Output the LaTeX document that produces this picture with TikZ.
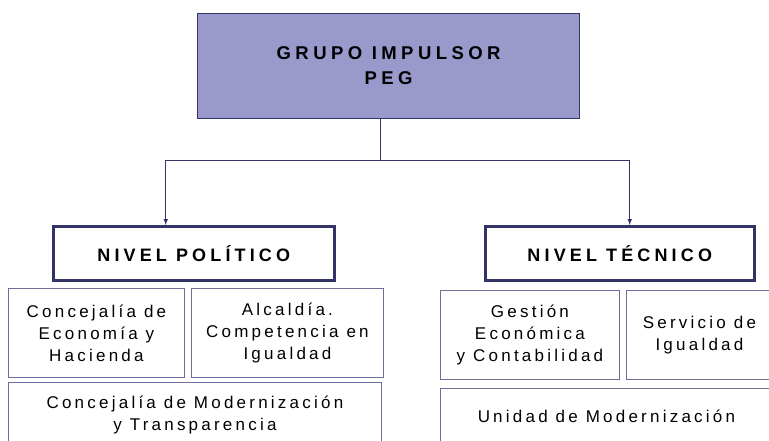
\documentclass[tikz,border=0pt]{standalone}
\usepackage{fontspec}
\setmainfont{Liberation Sans}
\usetikzlibrary{arrows,positioning}

\definecolor{grupofill}{RGB}{153,153,204}
\definecolor{navyline}{RGB}{51,51,102}
\definecolor{boxline}{RGB}{110,110,155}

\begin{document}
\begin{tikzpicture}[
        x=1pt, y=-1pt,
        grupo/.style={rectangle, draw=navyline, line width=1.2pt, fill=grupofill,
                      anchor=north west, inner sep=0pt, align=center,
                      font=\fontsize{18.5}{25}\selectfont\bfseries\addfontfeatures{LetterSpace=24}},
        nivel/.style={rectangle, draw=navyline, line width=2.5pt, minimum height=54pt,
                      anchor=north west, inner sep=0pt, align=center,
                      font=\fontsize{18}{22}\selectfont\bfseries\addfontfeatures{LetterSpace=23}},
        unidad/.style={rectangle, draw=boxline, line width=0.9pt,
                      anchor=north west, inner sep=0pt, align=center,
                      font=\fontsize{17}{22}\selectfont\addfontfeatures{LetterSpace=19}},
        line/.style={draw=navyline, line width=1pt, -latex}
    ]
    \useasboundingbox (0,0) rectangle (769,441);
    \clip (0,0) rectangle (769,441);

    \node [grupo, minimum width=382pt, minimum height=105pt] at (197,13) (grupo) {GRUPO IMPULSOR\\PEG};

    \node [nivel, minimum width=281pt] at (52,225) (politico) {NIVEL POLÍTICO};
    \node [nivel, minimum width=269pt] at (484,225) (tecnico) {NIVEL TÉCNICO};

    % nivel politico
    \node [unidad, minimum width=176pt, minimum height=89pt] at (8,288) (economia) {Concejalía de\\Economía y\\Hacienda};
    \node [unidad, minimum width=192pt, minimum height=89pt] at (191,288) (alcaldia) {Alcaldía.\\Competencia en\\Igualdad};
    \node [unidad, minimum width=373pt, minimum height=66pt] at (8,382) (modernizacion) {Concejalía de Modernización\\y Transparencia};

    % nivel tecnico
    \node [unidad, minimum width=179pt, minimum height=89pt] at (440,290) (gestion) {Gestión\\Económica\\y Contabilidad};
    \node [unidad, minimum width=146pt, minimum height=89pt] at (626,290) (servicio) {Servicio de\\Igualdad};
    \node [unidad, minimum width=332pt, minimum height=56pt] at (440,388) (unidadmod) {Unidad de Modernización};

    \coordinate (split) at (380,161);
    \draw [navyline, line width=1pt] (grupo.south -| split) -- (split);
    \draw [line] (split) -| ([xshift=-28pt]politico.north);
    \draw [line] (split) -| ([xshift=10pt]tecnico.north);
\end{tikzpicture}
\end{document}
